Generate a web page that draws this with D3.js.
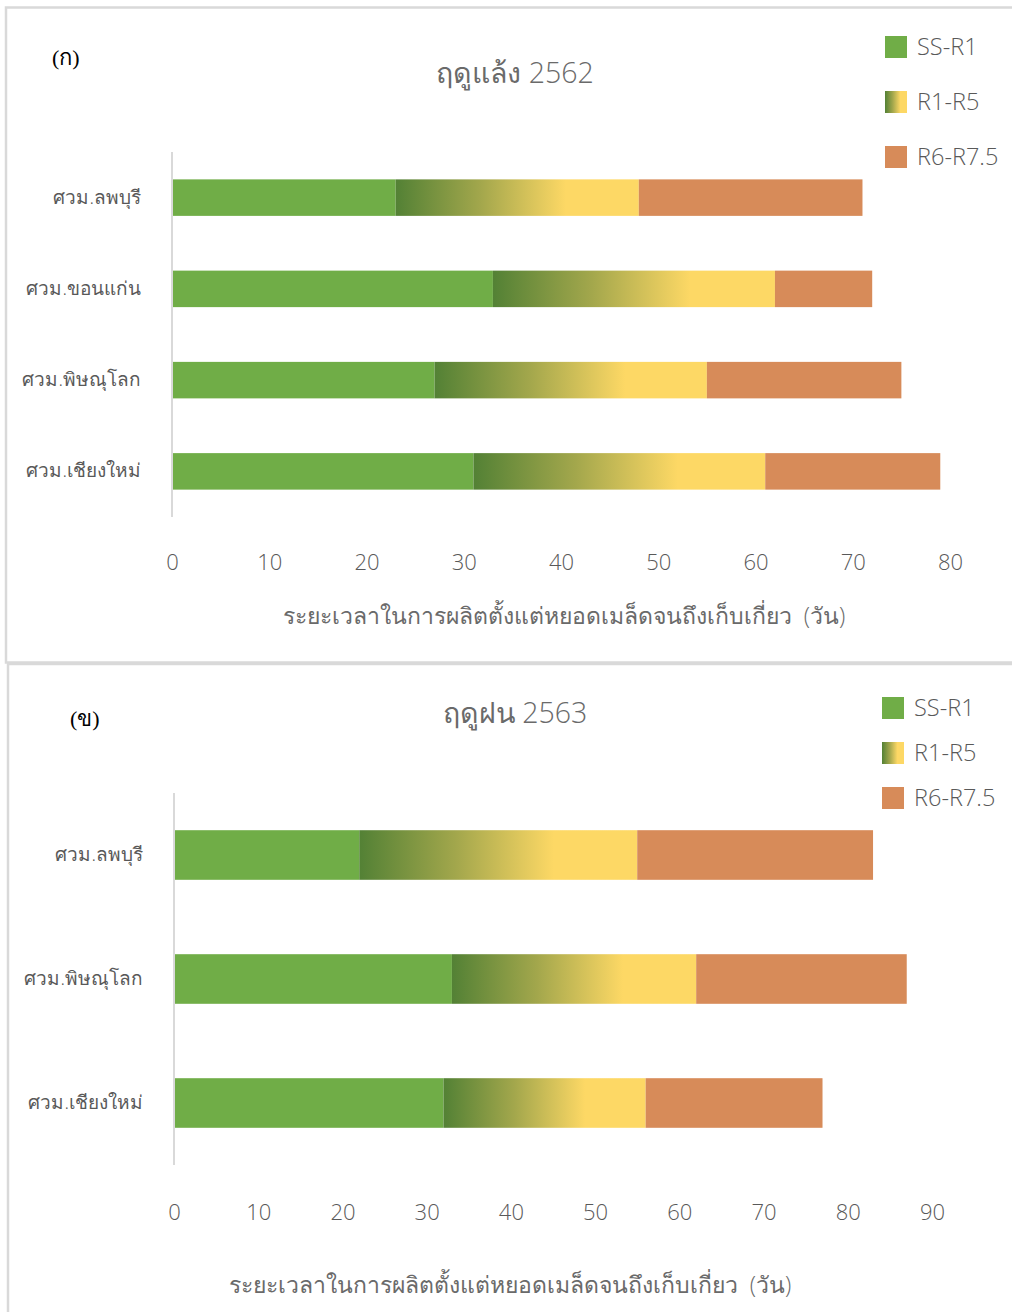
<!DOCTYPE html>
<html>
<head>
<meta charset="utf-8">
<script src="https://cdn.jsdelivr.net/npm/d3@7"></script>
<style>
  html, body { margin: 0; padding: 0; background: #fff; }
  svg { display: block; }
  text { font-family: "Open Sans", "Noto Sans", "DejaVu Sans", sans-serif; font-weight: 300; fill: #595959; }
</style>
</head>
<body>
<svg id="chart" width="1012" height="1312"></svg>
<script>
// Growth stage lengths (days) per research station
const seriesNames = ["SS-R1", "R1-R5", "R6-R7.5"];

// Dry season 2562
const dryStations = ["ศวม.ลพบุรี", "ศวม.ขอนแก่น", "ศวม.พิษณุโลก", "ศวม.เชียงใหม่"];
const drySSR1   = [23, 33, 27, 31];
const dryR1R5   = [25, 29, 28, 30];
const dryR6R75  = [23, 10, 20, 18];
const dryTicks  = [0, 10, 20, 30, 40, 50, 60, 70, 80];

// Rainy season 2563
const wetStations = ["ศวม.ลพบุรี", "ศวม.พิษณุโลก", "ศวม.เชียงใหม่"];
const wetSSR1   = [22, 33, 32];
const wetR1R5   = [33, 29, 24];
const wetR6R75  = [28, 25, 21];
const wetTicks  = [0, 10, 20, 30, 40, 50, 60, 70, 80, 90];

const axisTitle = "ระยะเวลาในการผลิตตั้งแต่หยอดเมล็ดจนถึงเก็บเกี่ยว  (วัน)";

const svg = d3.select("#chart");
const defs = svg.append("defs");

// Gradient used for the R1-R5 segment: dark green fading to yellow
const grad = defs.append("linearGradient").attr("id", "r1r5")
  .attr("x1", "0%").attr("x2", "100%").attr("y1", "0%").attr("y2", "0%");
grad.append("stop").attr("offset", "0%").attr("stop-color", "#538135");
grad.append("stop").attr("offset", "35%").attr("stop-color", "#a3a74c");
grad.append("stop").attr("offset", "70%").attr("stop-color", "#fdd865");
grad.append("stop").attr("offset", "100%").attr("stop-color", "#fdd865");

const fills = ["#70ad47", "url(#r1r5)", "#d78b59"];
const thaiGray = "#6a6a6a";

function panel(cfg) {
  const g = svg.append("g");

  // frame
  g.append("rect")
    .attr("x", cfg.frame[0]).attr("y", cfg.frame[1])
    .attr("width", cfg.frame[2]).attr("height", cfg.frame[3])
    .attr("fill", "none").attr("stroke", "#d9d9d9").attr("stroke-width", 2.5);

  const rows = cfg.stations.map((s, i) => ({
    station: s, "SS-R1": cfg.a[i], "R1-R5": cfg.b[i], "R6-R7.5": cfg.c[i]
  }));
  const stacked = d3.stack().keys(seriesNames)(rows);

  const x = d3.scaleLinear().domain([0, d3.max(cfg.ticks)]).range(cfg.xRange);
  const y = d3.scaleBand().domain(cfg.stations).range(cfg.yRange)
    .paddingInner(0.6).paddingOuter(0.3);

  // bars
  g.selectAll("g.series").data(stacked).join("g")
    .attr("class", "series")
    .attr("fill", (d, i) => fills[i])
    .selectAll("rect").data(d => d).join("rect")
      .attr("x", d => x(d[0]))
      .attr("width", d => x(d[1]) - x(d[0]))
      .attr("y", d => y(d.data.station))
      .attr("height", y.bandwidth());

  // vertical category axis line
  g.append("line")
    .attr("x1", x(0)).attr("x2", x(0))
    .attr("y1", cfg.yRange[0]).attr("y2", cfg.yRange[1])
    .attr("stroke", "#d9d9d9").attr("stroke-width", 2);

  // category labels
  const yAxis = g.append("g")
    .attr("transform", `translate(${cfg.labelX},0)`)
    .call(d3.axisLeft(y).tickSize(0).tickPadding(0));
  yAxis.select(".domain").remove();
  yAxis.selectAll("text")
    .attr("font-size", 19).attr("fill", thaiGray)
    .style("font-family", null);

  // value axis tick labels
  const xAxis = g.append("g")
    .attr("transform", `translate(0,${cfg.tickY})`)
    .call(d3.axisBottom(x).tickValues(cfg.ticks).tickSize(0).tickFormat(d3.format("d")));
  xAxis.select(".domain").remove();
  xAxis.selectAll("text")
    .attr("y", 0).attr("dy", "0.35em")
    .attr("font-size", 22).attr("fill", "#595959")
    .style("font-family", null);

  // chart title
  g.append("text")
    .attr("x", cfg.titleX).attr("y", cfg.titleY).attr("dy", "0.35em")
    .attr("text-anchor", "middle").attr("font-size", 28.5)
    .style("fill", thaiGray)
    .text(cfg.title);

  // panel tag
  g.append("text")
    .attr("x", cfg.tagX).attr("y", cfg.tagY).attr("dy", "0.35em")
    .attr("font-size", 22)
    .style("font-family", "'Liberation Serif', 'DejaVu Serif', serif")
    .style("font-weight", 400)
    .style("fill", "#000")
    .text(cfg.tag);

  // axis title
  g.append("text")
    .attr("x", cfg.axisTitleX).attr("y", cfg.axisTitleY).attr("dy", "0.35em")
    .attr("text-anchor", "middle").attr("font-size", 23)
    .style("white-space", "pre")
    .style("fill", thaiGray)
    .text(axisTitle);

  // legend
  const lg = g.append("g").selectAll("g").data(seriesNames).join("g")
    .attr("transform", (d, i) => `translate(${cfg.legendX},${cfg.legendY + i * cfg.legendStep})`);
  lg.append("rect")
    .attr("x", 0).attr("y", -11).attr("width", 22).attr("height", 22)
    .attr("fill", (d, i) => fills[i]);
  lg.append("text")
    .attr("x", 32).attr("y", 0).attr("dy", "0.35em")
    .attr("font-size", 23.5)
    .text(d => d);
}

panel({
  frame: [6, 7.5, 1012, 655],
  stations: dryStations, a: drySSR1, b: dryR1R5, c: dryR6R75, ticks: dryTicks,
  xRange: [172, 950], yRange: [152, 517], labelX: 141,
  tickY: 562, title: "ฤดูแล้ง 2562", titleX: 515, titleY: 73,
  tag: "(ก)", tagX: 52, tagY: 57,
  axisTitleX: 564, axisTitleY: 616,
  legendX: 885, legendY: 47, legendStep: 55
});

panel({
  frame: [8, 664, 1012, 660],
  stations: wetStations, a: wetSSR1, b: wetR1R5, c: wetR6R75, ticks: wetTicks,
  xRange: [174, 932], yRange: [793, 1165], labelX: 143,
  tickY: 1212, title: "ฤดูฝน 2563", titleX: 515, titleY: 713,
  tag: "(ข)", tagX: 70, tagY: 718,
  axisTitleX: 510, axisTitleY: 1285,
  legendX: 882, legendY: 708, legendStep: 45
});
</script>
</body>
</html>
